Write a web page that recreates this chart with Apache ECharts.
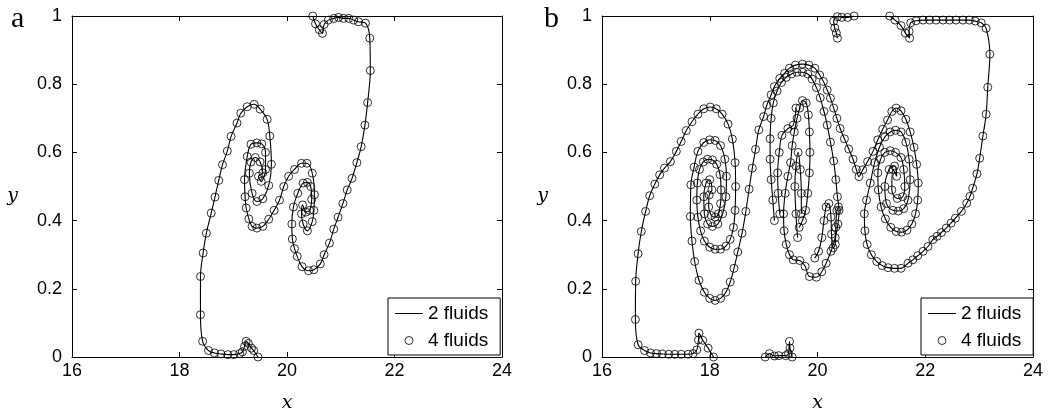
<!DOCTYPE html>
<html><head><meta charset="utf-8">
<script src="https://cdn.jsdelivr.net/npm/echarts@6/dist/echarts.min.js"></script>
<style>html,body{margin:0;padding:0;background:#fff}#c{width:1049px;height:412px}</style>
</head><body><div id="c"></div>
<script>
// ---------- tick labels ----------
var xTicks = [16, 18, 20, 22, 24];
var yTicks = [0, 0.2, 0.4, 0.6, 0.8, 1];
var seriesNames = ['2 fluids', '4 fluids'];
var panelLabels = ['a', 'b'];

// ---------- panel a: interface (bottom -> top) ----------
var aCurve = [
[19.46,0.0],[19.38,0.019],[19.34,0.026],[19.28,0.04],[19.24,0.046],[19.21,0.031],[19.17,0.015],[19.12,0.01],[19.01,0.007],[18.9,0.007],[18.77,0.009],[18.65,0.012],[18.54,0.019],[18.43,0.046],[18.39,0.124],[18.39,0.236],[18.44,0.305],[18.5,0.363],[18.59,0.422],[18.66,0.469],[18.73,0.518],[18.8,0.564],[18.89,0.604],[18.96,0.647],[19.07,0.686],[19.14,0.715],[19.26,0.734],[19.39,0.741],[19.5,0.727],[19.63,0.697],[19.68,0.648],[19.71,0.565],[19.66,0.503],[19.55,0.464],[19.44,0.456],[19.35,0.48],[19.3,0.539],[19.33,0.572],[19.41,0.585],[19.5,0.572],[19.55,0.54],[19.47,0.53],
[19.52,0.515],[19.6,0.55],[19.6,0.6],[19.53,0.625],[19.44,0.628],[19.33,0.624],[19.26,0.588],[19.21,0.52],[19.22,0.47],[19.24,0.437],[19.29,0.405],[19.35,0.383],[19.44,0.378],[19.55,0.383],[19.66,0.404],[19.76,0.43],[19.86,0.46],[19.94,0.5],[20.03,0.53],[20.14,0.55],[20.27,0.568],[20.37,0.568],[20.47,0.539],[20.51,0.476],[20.5,0.43],[20.47,0.397],[20.38,0.37],[20.3,0.39],[20.27,0.42],[20.29,0.446],
[20.35,0.425],[20.42,0.43],[20.46,0.462],[20.44,0.5],[20.38,0.512],[20.3,0.51],[20.2,0.48],[20.12,0.44],[20.09,0.39],[20.1,0.346],[20.14,0.318],[20.19,0.295],[20.28,0.265],[20.4,0.253],[20.5,0.256],[20.62,0.273],[20.69,0.30],[20.79,0.334],[20.87,0.375],[20.95,0.41],[21.04,0.45],[21.12,0.49],[21.21,0.524],[21.3,0.57],[21.38,0.617],[21.45,0.68],[21.5,0.746],[21.55,0.84],[21.54,0.935],[21.46,0.979],[21.33,0.983],[21.24,0.988],[21.15,0.993],[21.05,0.993],[20.96,0.996],[20.87,0.993],[20.77,0.988],[20.69,0.975],[20.66,0.949],[20.6,0.96],[20.53,0.977],[20.48,1.0]
];

// ---------- panel b: main interface ----------
var bCurve = [
[18.07,0.0],[17.97,0.026],[17.87,0.049],[17.8,0.07],[17.79,0.05],[17.76,0.021],[17.69,0.01],[17.6,0.008],[17.47,0.008],[17.35,0.008],[17.24,0.008],[17.12,0.009],[17.01,0.01],[16.9,0.012],[16.79,0.019],[16.67,0.036],[16.62,0.11],[16.625,0.222],[16.67,0.303],[16.73,0.368],[16.81,0.427],[16.885,0.473],[16.98,0.507],[17.07,0.534],[17.16,0.554],[17.27,0.573],[17.38,0.603],[17.47,0.632],[17.565,0.664],[17.67,0.69],[17.78,0.712],[17.89,0.728],[18.01,0.733],[18.12,0.728],[18.23,0.712],[18.34,0.683],[18.42,0.639],[18.47,0.57],[18.48,0.5],[18.47,0.43],[18.44,0.38],[18.38,0.345],[18.3,0.325],[18.2,0.316],[18.1,0.316],[18.0,0.322],[17.9,0.34],[17.83,0.37],[17.78,0.41],[17.76,0.46],[17.77,0.51],[17.81,0.55],[17.88,0.572],[17.96,0.58],[18.05,0.578],[18.13,0.565],[18.19,0.535],[18.21,0.49],[18.2,0.45],[18.16,0.42],[18.1,0.41],[18.03,0.415],[17.98,0.44],[17.99,0.475],
[18.04,0.49],[18.0,0.52],[17.93,0.51],[17.89,0.47],[17.9,0.42],[17.96,0.39],[18.05,0.383],[18.15,0.39],[18.24,0.42],[18.3,0.47],[18.31,0.53],[18.28,0.58],[18.2,0.62],[18.1,0.635],[18.0,0.637],[17.89,0.629],[17.78,0.603],[17.71,0.557],[17.65,0.505],[17.64,0.412],[17.67,0.34],[17.72,0.28],[17.8,0.225],[17.9,0.19],[18.0,0.172],[18.1,0.166],[18.2,0.172],[18.3,0.19],[18.38,0.22],[18.45,0.26],[18.52,0.308],[18.6,0.363],
[18.67,0.427],[18.73,0.492],[18.79,0.554],[18.85,0.609],[18.91,0.666],[19.0,0.705],[19.06,0.739],[19.14,0.769],[19.2,0.793],[19.3,0.817],[19.39,0.832],[19.48,0.847],[19.59,0.856],[19.72,0.859],[19.84,0.856],[19.95,0.847],[20.04,0.827],[20.11,0.808],[20.18,0.783],[20.24,0.759],[20.3,0.73],[20.36,0.7],[20.42,0.67],[20.5,0.64],[20.58,0.61],[20.66,0.58],[20.72,0.55],[20.77,0.529],
[20.84,0.549],[20.93,0.573],[21.03,0.603],[21.12,0.637],[21.21,0.668],[21.3,0.695],[21.38,0.72],[21.46,0.73],[21.55,0.722],[21.64,0.697],[21.72,0.66],[21.79,0.615],[21.84,0.565],[21.87,0.51],[21.86,0.46],[21.82,0.42],[21.75,0.39],[21.66,0.372],[21.56,0.366],[21.46,0.368],[21.36,0.38],[21.26,0.405],[21.18,0.44],[21.13,0.49],[21.12,0.54],[21.17,0.58],[21.25,0.6],[21.35,0.605],[21.45,0.6],[21.55,0.585],[21.6,0.55],[21.62,0.5],[21.58,0.47],[21.48,0.465],[21.38,0.49],[21.4,0.55],[21.47,0.53],
[21.43,0.56],[21.33,0.55],[21.25,0.5],[21.28,0.45],[21.4,0.43],[21.5,0.428],[21.6,0.435],[21.68,0.46],[21.72,0.52],[21.7,0.58],[21.64,0.63],[21.55,0.66],[21.45,0.665],[21.35,0.66],[21.25,0.645],[21.15,0.615],[21.06,0.57],[20.98,0.51],[20.91,0.46],[20.87,0.42],[20.88,0.37],[20.92,0.33],[21.0,0.3],[21.1,0.28],[21.2,0.268],[21.31,0.262],[21.43,0.26],[21.55,0.26],[21.68,0.275],[21.77,0.285],[21.86,0.297],[21.96,0.31],[22.05,0.324],[22.14,0.344],[22.22,0.354],[22.3,0.365],[22.39,0.378],[22.48,0.393],[22.56,0.407],[22.67,0.427],[22.77,0.451],[22.83,0.471],[22.88,0.495],[22.96,0.537],[23.01,0.583],[23.07,0.648],[23.13,0.712],[23.16,0.791],[23.2,0.888],[23.13,0.964],[23.04,0.98],[22.93,0.985],[22.82,0.988],[22.7,0.988],[22.57,0.988],[22.45,0.988],[22.33,0.988],[22.2,0.988],[22.08,0.988],[21.96,0.988],[21.83,0.986],[21.73,0.98],[21.7,0.955],[21.71,0.935],[21.63,0.95],[21.55,0.972],[21.44,0.988],[21.34,1.0]
];

// panel b: central tangle (second arch and inner folds)
var bCentre = [
[19.2,0.4],[19.17,0.46],[19.14,0.52],[19.12,0.58],[19.12,0.64],[19.14,0.7],[19.18,0.745],[19.25,0.78],[19.33,0.805],[19.42,0.82],[19.52,0.83],[19.62,0.835],[19.72,0.835],[19.82,0.83],[19.9,0.815],[19.98,0.79],[20.05,0.76],[20.12,0.72],[20.18,0.68],[20.24,0.63],[20.3,0.575],[20.34,0.52],[20.37,0.47],[20.4,0.43],[20.38,0.39],[20.33,0.35],[20.25,0.31],[20.16,0.275],[20.08,0.25],[19.98,0.234],[19.85,0.236],[19.77,0.266],[19.67,0.283],[19.55,0.285],[19.48,0.3],[19.42,0.33],[19.38,0.37],[19.37,0.42],[19.4,0.48],[19.45,0.53],[19.5,0.57],[19.53,0.62],[19.57,0.66],[19.62,0.7],[19.67,0.73],[19.72,0.752],[19.79,0.745],[19.83,0.71],[19.85,0.66],[19.86,0.6],[19.85,0.54],[19.82,0.48],[19.78,0.43],[19.72,0.4],[19.66,0.38]
];
var bFoldLeft = [
[19.3,0.42],[19.27,0.48],[19.26,0.54],[19.29,0.6],[19.34,0.65],[19.45,0.67],[19.55,0.68],[19.6,0.73]
];
var bFoldRight = [
[19.95,0.29],[20.02,0.31],[20.08,0.35],[20.12,0.4],[20.16,0.44],[20.21,0.45],[20.25,0.41],[20.26,0.36],[20.29,0.32],[20.33,0.33],[20.34,0.38],[20.36,0.43],[20.39,0.44]
];
var bFoldMid = [
[19.63,0.35],[19.6,0.42],[19.58,0.5],[19.6,0.56],[19.64,0.6],[19.68,0.55],[19.7,0.48],[19.7,0.42]
];

// panel b: pieces touching the top wall
var bTop = [[20.68,1.0],[20.56,0.996],[20.45,0.996],[20.37,0.998],[20.3,0.985],[20.32,0.965],[20.35,0.95],[20.37,0.935]];
// panel b: piece on the bottom wall
var bBottom = [[19.03,0.0],[19.11,0.01],[19.2,0.003],[19.28,0.004],[19.41,0.004],[19.46,0.01],[19.48,0.046],[19.49,0.026],[19.53,0.0]];

var panelA = [aCurve];
var panelB = [bCurve, bCentre, bFoldLeft, bFoldRight, bFoldMid, bTop, bBottom];

var chart = echarts.init(document.getElementById('c'), null, {renderer: 'canvas'});
var grids = [
  {left: 72, top: 16, width: 430, height: 341, outerBoundsMode: 'none', containLabel: false},
  {left: 602, top: 16, width: 431, height: 341, outerBoundsMode: 'none', containLabel: false}
];
var labelFont = 'Liberation Sans';
function xAx(g, pos) {
  return {gridIndex: g, type: 'value', position: pos, min: xTicks[0], max: xTicks[xTicks.length-1], interval: 2,
    axisLine: {show: true, onZero: false, lineStyle: {color: '#000', width: 1}},
    axisTick: {show: true, inside: true, length: 5, lineStyle: {color: '#000'}},
    axisLabel: {show: pos === 'bottom', color: '#000', fontSize: 18, fontFamily: labelFont, margin: 5},
    splitLine: {show: false},
    name: pos === 'bottom' ? 'x' : '', nameLocation: 'middle', nameGap: 37,
    nameTextStyle: {color: '#000', fontFamily: 'DejaVu Serif', fontStyle: 'italic', fontSize: 19}};
}
function yAx(g, pos) {
  return {gridIndex: g, type: 'value', position: pos, min: yTicks[0], max: yTicks[yTicks.length-1], interval: 0.2,
    axisLine: {show: true, onZero: false, lineStyle: {color: '#000', width: 1}},
    axisTick: {show: true, inside: true, length: 5, lineStyle: {color: '#000'}},
    axisLabel: {show: pos === 'left', color: '#000', fontSize: 18, fontFamily: labelFont, margin: 10,
      formatter: function (v) { return String(Math.round(v * 10) / 10); }},
    splitLine: {show: false},
    name: pos === 'left' ? 'y' : '', nameLocation: 'middle', nameGap: 54, nameRotate: 0,
    nameTextStyle: {color: '#000', fontFamily: 'DejaVu Serif', fontStyle: 'italic', fontSize: 19, verticalAlign: 'top'}};
}
var xAxes = [xAx(0,'bottom'), xAx(0,'top'), xAx(1,'bottom'), xAx(1,'top')];
var yAxes = [yAx(0,'left'), yAx(0,'right'), yAx(1,'left'), yAx(1,'right')];

var series = [];
function addPanel(list, xi, yi) {
  list.forEach(function (seg) {
    series.push({name: seriesNames[0], type: 'line', xAxisIndex: xi, yAxisIndex: yi, data: seg,
      symbol: 'none', smooth: 0.35, lineStyle: {color: '#000', width: 1.1}, itemStyle: {color: '#000'}, z: 2, animation: false});
  });
  list.forEach(function (seg) {
    series.push({name: seriesNames[1], type: 'scatter', xAxisIndex: xi, yAxisIndex: yi, data: seg,
      symbol: 'circle', symbolSize: 8,
      itemStyle: {color: 'rgba(0,0,0,0)', borderColor: '#000', borderWidth: 1}, z: 3, animation: false});
  });
}
addPanel(panelA, 0, 0);
addPanel(panelB, 2, 2);

function legendAt(left) {
  return {left: left, top: 298, orient: 'vertical', backgroundColor: '#fff', borderColor: '#000', borderWidth: 1,
    borderRadius: 0, padding: [6, 12, 5, 7], itemWidth: 28, itemHeight: 8, itemGap: 8, selectedMode: false,
    textStyle: {fontSize: 19, fontFamily: labelFont, color: '#000'},
    data: [
      {name: seriesNames[0], icon: 'path://M0,0L28,0L28,1L0,1Z', itemStyle: {color: '#000', borderWidth: 0}},
      {name: seriesNames[1], icon: 'circle', itemStyle: {color: 'rgba(0,0,0,0)', borderColor: '#000', borderWidth: 1}}
    ]};
}

chart.setOption({
  animation: false,
  backgroundColor: '#fff',
  grid: grids,
  xAxis: xAxes,
  yAxis: yAxes,
  legend: [legendAt(388), legendAt(921)],
  series: series,
  graphic: [
    {type: 'text', left: 11, top: 4, style: {text: panelLabels[0], font: '30px "Liberation Serif"', fill: '#000'}},
    {type: 'text', left: 544, top: 4, style: {text: panelLabels[1], font: '30px "Liberation Serif"', fill: '#000'}}
  ]
});
</script></body></html>
